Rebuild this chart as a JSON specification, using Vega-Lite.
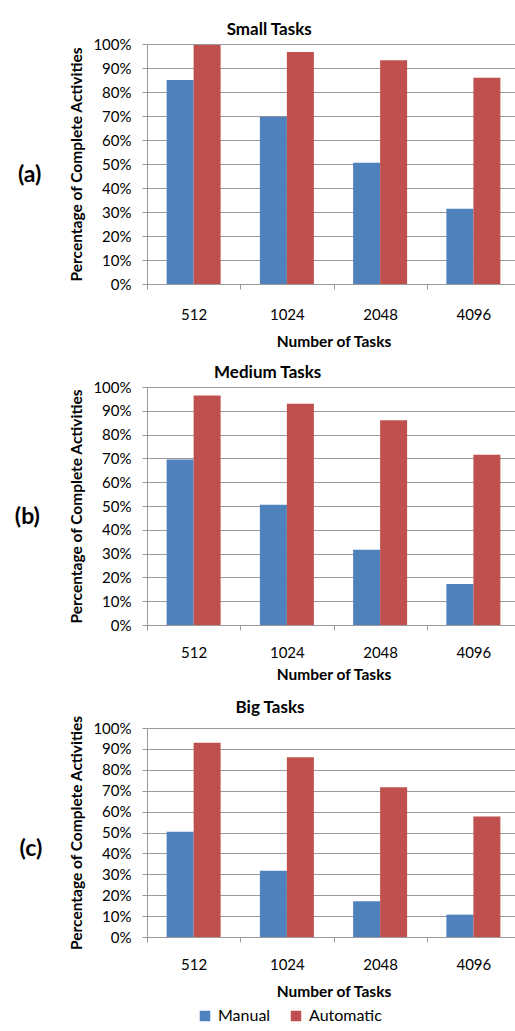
{
  "$schema": "https://vega.github.io/schema/vega-lite/v6.json",
  "padding": {"left": 14, "top": 21, "right": 0, "bottom": 0},
  "background": "white",
  "datasets": {
    "d": [
      {"label": "(a)", "tasks": "512", "mode": "Manual", "value": 0.85},
      {"label": "(a)", "tasks": "512", "mode": "Automatic", "value": 0.996},
      {"label": "(a)", "tasks": "1024", "mode": "Manual", "value": 0.697},
      {"label": "(a)", "tasks": "1024", "mode": "Automatic", "value": 0.967},
      {"label": "(a)", "tasks": "2048", "mode": "Manual", "value": 0.505},
      {"label": "(a)", "tasks": "2048", "mode": "Automatic", "value": 0.932},
      {"label": "(a)", "tasks": "4096", "mode": "Manual", "value": 0.314},
      {"label": "(a)", "tasks": "4096", "mode": "Automatic", "value": 0.859},
      {"label": "(b)", "tasks": "512", "mode": "Manual", "value": 0.695},
      {"label": "(b)", "tasks": "512", "mode": "Automatic", "value": 0.964},
      {"label": "(b)", "tasks": "1024", "mode": "Manual", "value": 0.505},
      {"label": "(b)", "tasks": "1024", "mode": "Automatic", "value": 0.93},
      {"label": "(b)", "tasks": "2048", "mode": "Manual", "value": 0.316},
      {"label": "(b)", "tasks": "2048", "mode": "Automatic", "value": 0.86},
      {"label": "(b)", "tasks": "4096", "mode": "Manual", "value": 0.172},
      {"label": "(b)", "tasks": "4096", "mode": "Automatic", "value": 0.715},
      {"label": "(c)", "tasks": "512", "mode": "Manual", "value": 0.504},
      {"label": "(c)", "tasks": "512", "mode": "Automatic", "value": 0.93},
      {"label": "(c)", "tasks": "1024", "mode": "Manual", "value": 0.317},
      {"label": "(c)", "tasks": "1024", "mode": "Automatic", "value": 0.86},
      {"label": "(c)", "tasks": "2048", "mode": "Manual", "value": 0.171},
      {"label": "(c)", "tasks": "2048", "mode": "Automatic", "value": 0.716},
      {"label": "(c)", "tasks": "4096", "mode": "Manual", "value": 0.107},
      {"label": "(c)", "tasks": "4096", "mode": "Automatic", "value": 0.576}
    ]
  },
  "data": {"name": "d"},
  "spacing": 16,
  "config": {
    "font": "Lato",
    "view": {"stroke": null},
    "title": {"font": "Lato", "fontSize": 17, "fontWeight": "bold", "color": "black", "anchor": "middle", "offset": -2},
    "axis": {
      "labelFont": "Lato", "labelFontSize": 15, "labelColor": "black",
      "titleFont": "Lato", "titleFontSize": 15.5, "titleFontWeight": "bold", "titleColor": "black",
      "domainColor": "#9A9A9A", "tickColor": "#9A9A9A", "gridColor": "#9A9A9A",
      "tickSize": 5
    },
    "header": {"labelFont": "Lato", "labelFontSize": 23, "labelFontWeight": "bold", "labelColor": "black"},
    "legend": {"labelFont": "Lato", "labelFontSize": 16, "labelColor": "black"}
  },
  "resolve": {"legend": {"color": "shared"}},
  "vconcat": [
    {
      "spacing": 14,
      "vconcat": [
        {
          "title": "Small Tasks",
          "transform": [{"filter": "datum.label == '(a)'"}],
          "facet": {"row": {"field": "label", "type": "nominal", "header": {"title": null, "labelOrient": "left", "labelAngle": 0, "labelPadding": 5, "labelBaseline": "top"}}},
          "spec": {
            "width": 373, "height": 240,
            "mark": {"type": "bar"},
            "encoding": {
              "x": {"field": "tasks", "type": "ordinal", "sort": ["512", "1024", "2048", "4096"], "scale": {"paddingInner": 0, "paddingOuter": 0},
                    "axis": {"title": "Number of Tasks", "labelAngle": 0, "tickBand": "extent", "labelPadding": 18, "titlePadding": 12}},
              "xOffset": {"field": "mode", "sort": ["Manual", "Automatic"], "scale": {"paddingInner": 0, "paddingOuter": 0.727}},
              "y": {"field": "value", "type": "quantitative", "scale": {"domain": [0, 1]},
                    "axis": {"format": ".0%", "values": [0, 0.1, 0.2, 0.3, 0.4, 0.5, 0.6, 0.7, 0.8, 0.9, 1], "title": "Percentage of Complete Activities", "labelPadding": 11, "titlePadding": 8}},
              "color": {"field": "mode", "type": "nominal", "sort": ["Manual", "Automatic"], "scale": {"range": ["#4F81BD", "#C0504D"]},
                        "legend": {"title": null, "orient": "none", "legendX": 50, "legendY": 964, "direction": "horizontal", "symbolType": "square", "symbolSize": 110, "symbolStrokeWidth": 0, "columnPadding": 17, "labelOffset": 5}}
            }
          }
        },
        {
          "title": "Medium Tasks",
          "transform": [{"filter": "datum.label == '(b)'"}],
          "facet": {"row": {"field": "label", "type": "nominal", "header": {"title": null, "labelOrient": "left", "labelAngle": 0, "labelPadding": 5, "labelBaseline": "top"}}},
          "spec": {
            "width": 373, "height": 238,
            "mark": {"type": "bar"},
            "encoding": {
              "x": {"field": "tasks", "type": "ordinal", "sort": ["512", "1024", "2048", "4096"], "scale": {"paddingInner": 0, "paddingOuter": 0},
                    "axis": {"title": "Number of Tasks", "labelAngle": 0, "tickBand": "extent", "labelPadding": 15, "titlePadding": 7}},
              "xOffset": {"field": "mode", "sort": ["Manual", "Automatic"], "scale": {"paddingInner": 0, "paddingOuter": 0.727}},
              "y": {"field": "value", "type": "quantitative", "scale": {"domain": [0, 1]},
                    "axis": {"format": ".0%", "values": [0, 0.1, 0.2, 0.3, 0.4, 0.5, 0.6, 0.7, 0.8, 0.9, 1], "title": "Percentage of Complete Activities", "labelPadding": 11, "titlePadding": 8}},
              "color": {"field": "mode", "type": "nominal", "sort": ["Manual", "Automatic"], "scale": {"range": ["#4F81BD", "#C0504D"]}}
            }
          }
        }
      ]
    },
    {
      "title": "Big Tasks",
      "transform": [{"filter": "datum.label == '(c)'"}],
      "facet": {"row": {"field": "label", "type": "nominal", "header": {"title": null, "labelOrient": "left", "labelAngle": 0, "labelPadding": 5, "labelBaseline": "line-top", "labelLineHeight": 33}}},
      "spec": {
        "width": 373, "height": 209,
        "mark": {"type": "bar"},
        "encoding": {
          "x": {"field": "tasks", "type": "ordinal", "sort": ["512", "1024", "2048", "4096"], "scale": {"paddingInner": 0, "paddingOuter": 0},
                "axis": {"title": "Number of Tasks", "labelAngle": 0, "tickBand": "extent", "labelPadding": 15, "titlePadding": 12}},
          "xOffset": {"field": "mode", "sort": ["Manual", "Automatic"], "scale": {"paddingInner": 0, "paddingOuter": 0.727}},
          "y": {"field": "value", "type": "quantitative", "scale": {"domain": [0, 1]},
                "axis": {"format": ".0%", "values": [0, 0.1, 0.2, 0.3, 0.4, 0.5, 0.6, 0.7, 0.8, 0.9, 1], "title": "Percentage of Complete Activities", "labelPadding": 11, "titlePadding": 8}},
          "color": {"field": "mode", "type": "nominal", "sort": ["Manual", "Automatic"], "scale": {"range": ["#4F81BD", "#C0504D"]}}
        }
      }
    }
  ]
}
